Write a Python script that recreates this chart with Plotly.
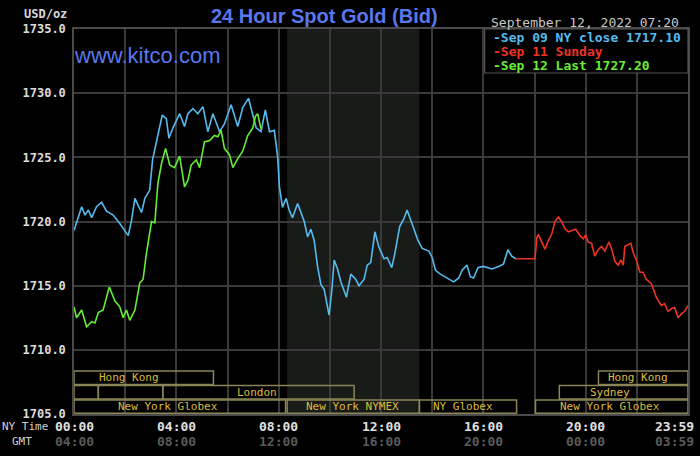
import plotly.graph_objects as go

# ---------------- data ----------------
sep09_hours = [0.0, 0.30, 0.43, 0.56, 0.69, 0.88, 1.08, 1.27, 1.53, 1.79, 2.12, 2.25, 2.38, 2.64, 2.77,
               2.96, 3.07, 3.28, 3.45, 3.61, 3.71, 3.87, 4.13, 4.32, 4.45, 4.65, 4.84, 5.04, 5.23, 5.43,
               5.69, 5.88, 6.14, 6.40, 6.60, 6.82, 6.99, 7.12, 7.31, 7.48, 7.64, 7.83, 7.96, 8.03, 8.15,
               8.29, 8.41, 8.54, 8.74, 8.87, 9.00, 9.13, 9.26, 9.39, 9.52, 9.65, 9.78, 9.97, 10.08, 10.17,
               10.30, 10.43, 10.65, 10.82, 11.01, 11.14, 11.34, 11.46, 11.60, 11.76, 11.92, 12.12, 12.24,
               12.42, 12.54, 12.73, 12.89, 13.02, 13.16, 13.28, 13.45, 13.61, 13.87, 14.00, 14.13, 14.32,
               14.58, 14.84, 15.04, 15.17, 15.36, 15.49, 15.62, 15.79, 16.01, 16.33, 16.60, 16.79, 16.96,
               17.11, 17.27]
sep09_price = [1719.3, 1721.15, 1720.5, 1720.9, 1720.3, 1721.15, 1721.5, 1720.8, 1720.5, 1719.85, 1718.9,
               1720.1, 1721.8, 1720.7, 1721.8, 1722.45, 1724.8, 1726.6, 1728.3, 1728.0, 1726.5, 1727.3,
               1728.4, 1727.4, 1728.4, 1728.8, 1728.4, 1728.95, 1727.0, 1728.4, 1727.0, 1727.6, 1729.1,
               1727.4, 1728.9, 1729.6, 1728.4, 1727.3, 1727.0, 1728.7, 1727.0, 1727.1, 1725.05, 1722.7,
               1721.1, 1721.8, 1720.9, 1720.3, 1721.4, 1720.7, 1720.0, 1718.8, 1719.4, 1718.5, 1716.5,
               1715.1, 1714.7, 1712.7, 1714.7, 1717.0, 1716.3, 1715.3, 1714.1, 1715.9, 1715.5, 1715.0,
               1715.5, 1716.6, 1716.8, 1719.2, 1718.0, 1717.1, 1717.2, 1716.4, 1717.5, 1719.6, 1720.2,
               1720.9, 1720.1, 1719.4, 1718.5, 1717.9, 1717.7, 1717.2, 1716.2, 1715.9, 1715.6, 1715.3,
               1715.6, 1716.2, 1716.6, 1715.7, 1715.6, 1716.4, 1716.5, 1716.3, 1716.5, 1716.7, 1717.8,
               1717.3, 1717.1]

sep11_hours = [17.25, 18.02, 18.05, 18.09, 18.15, 18.28, 18.41, 18.54, 18.67, 18.80, 18.93, 19.06, 19.19,
               19.32, 19.45, 19.61, 19.78, 19.91, 20.00, 20.10, 20.23, 20.36, 20.49, 20.62, 20.75, 20.91,
               21.01, 21.14, 21.27, 21.38, 21.47, 21.53, 21.66, 21.77, 21.85, 21.98, 22.12, 22.24, 22.37,
               22.57, 22.76, 22.96, 23.08, 23.22, 23.35, 23.48, 23.61, 23.74, 23.87, 24.0]
sep11_price = [1717.1, 1717.1, 1717.8, 1718.75, 1719.0, 1718.4, 1717.85, 1718.5, 1719.0, 1720.0, 1720.35,
               1720.0, 1719.45, 1719.2, 1719.3, 1719.4, 1718.9, 1718.65, 1718.95, 1718.4, 1718.3, 1717.3,
               1717.8, 1718.05, 1717.7, 1718.4, 1717.9, 1716.9, 1716.6, 1717.0, 1716.6, 1718.05, 1718.2,
               1718.3, 1717.6, 1717.0, 1716.05, 1716.05, 1715.5, 1715.15, 1714.1, 1713.45, 1713.6, 1713.0,
               1713.2, 1713.3, 1712.5, 1712.8, 1713.0, 1713.45]

sep12_hours = [0.0, 0.10, 0.30, 0.49, 0.69, 0.82, 0.95, 1.14, 1.38, 1.60, 1.79, 1.92, 2.05, 2.18, 2.38,
               2.57, 2.70, 2.83, 3.03, 3.16, 3.28, 3.42, 3.58, 3.74, 3.93, 4.13, 4.32, 4.45, 4.58, 4.78,
               4.91, 5.10, 5.30, 5.49, 5.62, 5.75, 5.88, 6.08, 6.21, 6.40, 6.60, 6.79, 6.99, 7.09, 7.18, 7.31]
sep12_price = [1713.35, 1712.5, 1713.1, 1711.8, 1712.2, 1712.1, 1712.9, 1713.1, 1714.9, 1713.8, 1713.35,
               1712.5, 1713.1, 1712.3, 1713.1, 1715.2, 1715.5, 1717.5, 1720.0, 1719.9, 1723.0, 1724.5,
               1725.7, 1724.4, 1724.2, 1725.1, 1722.7, 1723.2, 1724.4, 1724.8, 1724.2, 1726.2, 1726.3,
               1726.7, 1726.6, 1727.1, 1725.7, 1725.2, 1724.2, 1724.9, 1725.5, 1726.7, 1727.3, 1728.2,
               1728.4, 1727.2]

legend_labels = ["Sep 09 NY close 1717.10", "Sep 11 Sunday", "Sep 12 Last 1727.20"]

y_ticks = [1705, 1710, 1715, 1720, 1725, 1730, 1735]
y_tick_text = ["1705.0", "1710.0", "1715.0", "1720.0", "1725.0", "1730.0", "1735.0"]

ny_time_vals = [0, 4, 8, 12, 16, 20, 24]
ny_time_text = ["00:00", "04:00", "08:00", "12:00", "16:00", "20:00", "23:59"]
gmt_time_text = ["04:00", "08:00", "12:00", "16:00", "20:00", "00:00", "03:59"]

# sessions: (label, start hour, end hour, row, label hour)
sessions = [
    ("Hong Kong", 0.0, 5.45, 0, 2.14),
    ("Hong Kong", 20.5, 24.0, 0, 22.05),
    ("", 0.0, 0.95, 1, None),
    ("", 0.95, 3.47, 1, None),
    ("London", 3.47, 10.95, 1, 7.17),
    ("Sydney", 18.97, 24.0, 1, 20.96),
    ("New York Globex", 0.0, 8.27, 2, 3.66),
    ("New York NYMEX", 8.33, 13.5, 2, 10.9),
    ("NY Globex", 13.5, 17.3, 2, 15.2),
    ("New York Globex", 18.04, 24.0, 2, 20.96),
]
nymex_open, nymex_close = 8.33, 13.5

# ---------------- figure ----------------
W, H = 700, 456
L, R, T, B = 74, 10, 29, 42
PW, PH = W - L - R, H - T - B


def px(x):
    return (x - L) / PW


def py(y):
    return (H - B - y) / PH


MONO = "DejaVu Sans Mono"
BLUE, RED, GREEN = "#55bbee", "#ee3322", "#66ee33"

fig = go.Figure()
fig.add_trace(go.Scatter(x=sep09_hours, y=sep09_price, mode="lines", name=legend_labels[0],
                         line=dict(color=BLUE, width=1.6)))
fig.add_trace(go.Scatter(x=sep11_hours, y=sep11_price, mode="lines", name=legend_labels[1],
                         line=dict(color=RED, width=1.6)))
fig.add_trace(go.Scatter(x=sep12_hours, y=sep12_price, mode="lines", name=legend_labels[2],
                         line=dict(color=GREEN, width=1.6)))

shapes = []
# NYMEX shading
shapes.append(dict(type="rect", xref="x", yref="paper", x0=nymex_open, x1=nymex_close, y0=0, y1=1,
                   fillcolor="#181b18", line=dict(width=0), layer="below"))

row_bounds = [(1707.30, 1708.35), (1706.17, 1707.22), (1705.05, 1706.09)]
annotations = []
for name, s, e, row, lx in sessions:
    y0, y1 = row_bounds[row]
    shapes.append(dict(type="rect", xref="x", yref="y", x0=s, x1=e, y0=y0, y1=y1,
                       line=dict(color="#8c8558", width=1.5), fillcolor="rgba(0,0,0,0)", layer="above"))
    if name:
        annotations.append(dict(x=lx, y=(y0 + y1) / 2, xref="x", yref="y", text=name, showarrow=False,
                                font=dict(family=MONO, size=11, color="#dcbc3c"),
                                xanchor="center", yanchor="middle"))

# legend box
shapes.append(dict(type="rect", xref="paper", yref="paper", x0=px(486), x1=1.0, y0=py(73), y1=1.0,
                   fillcolor="black", line=dict(color="#555555", width=1.2), layer="above"))
for i, (lab, col) in enumerate(zip(legend_labels, [BLUE, RED, GREEN])):
    annotations.append(dict(x=px(492), y=py(37.5 + 14 * i), xref="paper", yref="paper",
                            text="-" + lab, showarrow=False, xanchor="left", yanchor="middle",
                            font=dict(family=MONO, size=13, color=col, weight="bold")))

# header texts
annotations.append(dict(x=px(325), y=py(16), xref="paper", yref="paper", text="24 Hour Spot Gold (Bid)",
                        showarrow=False, xanchor="center", yanchor="middle",
                        font=dict(family="Liberation Sans", size=20, color="#5a78ee", weight="bold")))
annotations.append(dict(x=px(72), y=py(55), xref="paper", yref="paper", text="www.kitco.com",
                        showarrow=False, xanchor="left", yanchor="middle",
                        font=dict(family="Liberation Sans", size=22, color="#5a78ee")))
annotations.append(dict(x=px(490), y=py(22), xref="paper", yref="paper", text="September 12, 2022 07:20",
                        showarrow=False, xanchor="left", yanchor="middle",
                        font=dict(family=MONO, size=13, color="#c8c8c8")))
annotations.append(dict(x=px(69), y=py(14), xref="paper", yref="paper", text="USD/oz",
                        showarrow=False, xanchor="right", yanchor="middle",
                        font=dict(family=MONO, size=12, color="#d8d8d8", weight="bold")))

# bottom time labels
annotations.append(dict(x=px(50), y=py(427), xref="paper", yref="paper", text="NY Time",
                        showarrow=False, xanchor="right", yanchor="middle",
                        font=dict(family=MONO, size=11, color="#d0d0d0")))
annotations.append(dict(x=px(22), y=py(441.5), xref="paper", yref="paper", text="GMT",
                        showarrow=False, xanchor="center", yanchor="middle",
                        font=dict(family=MONO, size=11, color="#d0d0d0")))
for v, nt, gt in zip(ny_time_vals, ny_time_text, gmt_time_text):
    xv = px(676) if v == 24 else v / 24.0
    annotations.append(dict(x=xv, y=py(427), xref="paper", yref="paper", text=nt, showarrow=False,
                            xanchor="center", yanchor="middle",
                            font=dict(family=MONO, size=13, color="#e0e0e0", weight="bold")))
    annotations.append(dict(x=xv, y=py(441.5), xref="paper", yref="paper", text=gt, showarrow=False,
                            xanchor="center", yanchor="middle",
                            font=dict(family=MONO, size=13, color="#5a5a5a", weight="bold")))

fig.update_layout(
    width=W, height=H,
    margin=dict(l=L, r=R, t=T, b=B),
    paper_bgcolor="black", plot_bgcolor="black",
    showlegend=False,
    shapes=shapes, annotations=annotations,
    xaxis=dict(range=[0, 24], tickvals=list(range(0, 25, 2)), showticklabels=False,
               showgrid=True, gridcolor="#3a3a3a", gridwidth=1.5, zeroline=False,
               showline=True, mirror=True, linecolor="#4a4a4a", linewidth=1.5, fixedrange=True),
    yaxis=dict(range=[1705, 1735], tickvals=y_ticks, ticktext=y_tick_text,
               showgrid=True, gridcolor="#3a3a3a", gridwidth=1.5, zeroline=False,
               showline=True, mirror=True, linecolor="#4a4a4a", linewidth=1.5,
               ticks="outside", ticklen=4, tickcolor="black",
               tickfont=dict(family=MONO, size=12, color="#dcdcdc", weight="bold"), fixedrange=True),
)

fig.write_html("out.html", config={"displayModeBar": False},
               post_script="document.body.style.margin='0';document.body.style.background='black';")
